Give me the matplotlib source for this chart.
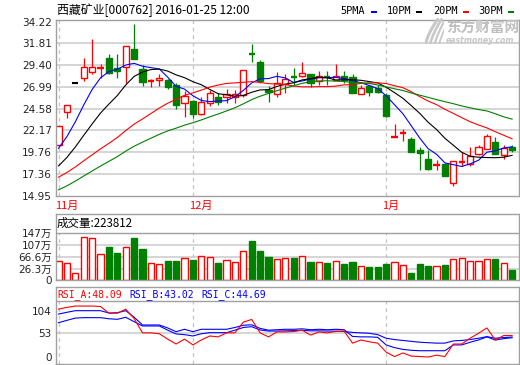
import numpy as np
import pandas as pd
import matplotlib
matplotlib.use("Agg")
import matplotlib.pyplot as plt
from matplotlib.patches import Rectangle
import matplotlib.transforms as mtransforms

plt.rcParams['font.family'] = ['DejaVu Sans', 'Noto Sans CJK SC']
CJK = ['Noto Sans CJK SC', 'DejaVu Sans']
MONO = ['DejaVu Sans Mono', 'Noto Sans CJK SC']

# ---------------------------------------------------------------- data
stock_name = '西藏矿业'
stock_code = '000762'
stamp = '2016-01-25 12:00'

open_ = [20.59, 24.26, 27.47, 28.00, 28.67, 29.08, 30.20, 29.11, 29.22, 31.14,
         29.03, 27.65, 27.73, 27.81, 27.25, 25.25, 25.48, 24.03, 25.25, 25.92,
         25.92, 25.90, 26.14, 30.65, 29.70, 26.60, 26.25, 27.36, 28.10, 28.15,
         28.37, 27.70, 28.08, 27.81, 28.15, 28.04, 26.25, 27.14, 26.92, 26.15,
         21.43, 21.88, 21.26, 20.03, 19.03, 18.33, 18.48, 16.37, 18.60, 18.48,
         19.59, 20.14, 20.92, 19.48, 20.37]
high = [22.70, 24.97, 27.47, 30.14, 32.25, 29.55, 30.59, 30.67, 31.55, 33.92,
        29.40, 27.92, 28.37, 27.90, 27.40, 26.50, 25.55, 25.90, 26.70, 26.37,
        26.80, 26.60, 28.90, 31.70, 30.00, 27.10, 28.60, 28.37, 29.10, 29.70,
        28.40, 28.80, 28.70, 29.50, 28.80, 28.40, 27.26, 27.20, 27.26, 26.37,
        22.92, 22.36, 21.40, 20.37, 20.03, 18.90, 18.60, 18.81, 19.80, 20.37,
        20.59, 21.81, 21.48, 20.59, 20.59]
low = [20.55, 23.50, 27.47, 27.62, 28.37, 28.00, 28.37, 28.00, 27.44, 30.03,
       27.07, 26.95, 27.15, 26.80, 24.58, 23.70, 23.60, 23.90, 24.90, 25.00,
       25.25, 25.25, 25.90, 29.80, 27.40, 25.30, 25.90, 26.37, 27.26, 28.10,
       27.00, 27.26, 27.26, 27.75, 27.40, 26.37, 26.20, 26.03, 26.37, 23.70,
       21.43, 21.03, 19.80, 17.80, 17.80, 17.80, 17.14, 16.03, 18.26, 18.26,
       19.50, 20.10, 19.59, 19.03, 19.81]
close = [22.70, 24.97, 27.47, 29.22, 29.18, 29.15, 28.48, 28.73, 31.55, 30.11,
         27.55, 27.70, 28.00, 27.00, 25.03, 26.03, 24.03, 25.37, 26.37, 25.36,
         26.25, 26.20, 28.84, 30.55, 27.60, 26.40, 27.47, 27.92, 28.00, 28.48,
         27.47, 28.15, 28.00, 28.15, 27.81, 26.37, 26.92, 26.48, 26.48, 23.81,
         21.43, 21.92, 19.81, 19.70, 17.92, 18.37, 17.14, 18.81, 18.70, 19.37,
         20.37, 21.59, 19.59, 20.25, 20.03]

# closes of the 29 sessions before the first bar (feed the moving averages)
pre_close = [11.6, 11.9, 12.2, 12.5, 12.7, 12.9, 13.1, 13.4, 13.7, 14.0,
             14.6, 15.2, 15.6, 15.9, 16.0, 16.1, 16.0, 16.1, 16.0, 16.0,
             15.6, 15.9, 16.3, 16.6, 17.1, 18.5, 19.3, 19.9, 20.6]

# volume in 万手
volume_wan = [53, 46, 12, 132.5, 129, 76.5, 100, 81, 100, 130,
              94, 46, 42, 53, 53, 62, 56, 69, 65, 47,
              55, 50, 86.5, 121, 86.5, 66.5, 60, 63, 63, 70,
              50, 50, 46, 53, 43, 50, 36, 33, 33, 43,
              50, 40, 13, 43, 36, 36, 40, 60, 63, 53,
              53, 60, 60, 46, 22.3812]
last_volume = 223812

rsi_a = [107, 111, 114, 114, 114, 113, 98, 98, 107, 86,
         54, 54, 52, 40, 29, 40, 27, 38, 47, 45,
         54, 54, 78, 84, 54, 45, 56, 56, 57, 60,
         49, 56, 54, 57, 58, 31, 38, 34, 31, 11,
         1, 9, 2, 1, 0, 4, 1, 29, 29, 42,
         53, 65, 38, 48, 48.09]
rsi_b = [96, 100, 103.6, 103.6, 103.6, 103.6, 98.4, 99, 103.6, 89,
         71.6, 71.6, 71.6, 65, 56.6, 62, 56.6, 62, 62, 62,
         62, 66, 71, 72, 64, 60, 61, 62, 62, 63,
         61, 62, 61, 62, 61, 46, 45, 45, 44, 27,
         21, 17, 15, 14, 14, 14, 14, 27, 27, 33,
         38, 45, 38, 41, 43.02]
rsi_c = [76.7, 82, 87, 88, 88, 88, 85.5, 84.3, 88.8, 79,
         69.4, 69.4, 69.4, 60, 51.5, 50, 47, 52, 54.4, 54.4,
         54.4, 60, 66, 67.8, 60.4, 58, 58, 58.5, 59, 59.5,
         58.5, 58.5, 58, 58, 57, 55, 54, 53, 50, 42,
         39, 37, 35, 33, 32, 31, 31, 36, 37, 39,
         42, 45.5, 42, 43.5, 44.69]

month_pos = [0, 16, 39]
month_labels = ['11月', '12月', '1月']
price_ticks = [34.22, 31.81, 29.40, 26.99, 24.58, 22.17, 19.76, 17.36, 14.95]
vol_ticks = [26.3, 66.6, 107, 147]
rsi_ticks = [0, 53, 104]
ma_periods = [5, 10, 20, 30]
ma_names = ['5PMA', '10PM', '20PM', '30PM']
ma_colors = ['#0000ff', '#000000', '#ff0000', '#008000']

# ---------------------------------------------------------------- layout
W, H = 520, 365
fig = plt.figure(figsize=(W / 100, H / 100), dpi=100)
fig.patch.set_facecolor('white')


def rect(x0, y0, x1, y1):
    return [x0 / W, 1 - y1 / H, (x1 - x0) / W, (y1 - y0) / H]


RED = '#ff0000'
GREEN = '#008000'
BLUE = '#0000ff'
FRAME = '#a0a0a0'
GRID = '#d2d2d2'
DASH = '#c4c4c4'
TXT = '#222222'

n = len(close)
xs = np.arange(n)
XLIM = (-0.3, 54.82)
BODY_W = 0.72
LW = 0.8


def style(ax):
    ax.set_xlim(*XLIM)
    ax.set_xticks([])
    for s in ax.spines.values():
        s.set_color(FRAME)
        s.set_linewidth(1.0)
    ax.tick_params(axis='y', length=0, pad=3, labelsize=7.5, labelcolor=TXT)
    ax.set_facecolor('white')


# ---------------------------------------------------------------- price panel
ax = fig.add_axes(rect(56, 20, 519, 196))
style(ax)
ax.set_ylim(14.92, 34.40)
ax.set_yticks(price_ticks)
ax.set_yticklabels([f'{t:.2f}' for t in price_ticks])
for t in price_ticks[1:-1]:
    ax.axhline(t, color=GRID, lw=1.3, zorder=0)
for p in month_pos:
    ax.axvline(p, color=DASH, lw=0.9, ls=(0, (3, 3)), zorder=0)

for i in range(n):
    o, h, l, c = open_[i], high[i], low[i], close[i]
    if h == l:
        ax.hlines(c, i - BODY_W / 2, i + BODY_W / 2, color='black', lw=1.5, zorder=2)
        continue
    up = c >= o
    col = RED if up else GREEN
    top, bot = max(o, c), min(o, c)
    if top - bot < 0.12:
        ax.vlines(i, l, h, color=col, lw=0.9, zorder=2)
        ax.hlines((top + bot) / 2, i - BODY_W / 2, i + BODY_W / 2, color=col, lw=1.7, zorder=2)
        continue
    if h > top:
        ax.vlines(i, top, h, color=col, lw=0.9, zorder=2)
    if l < bot:
        ax.vlines(i, l, bot, color=col, lw=0.9, zorder=2)
    ax.add_patch(Rectangle((i - BODY_W / 2, bot), BODY_W, top - bot,
                           facecolor='white' if up else col, edgecolor=col,
                           lw=1.0, zorder=2))

full_close = pd.Series(pre_close + close)
for p, col in zip(ma_periods, ma_colors):
    ma = full_close.rolling(p).mean().iloc[-n:].to_numpy()
    ax.plot(xs, ma, color=col, lw=LW, zorder=3)

# month labels between price and volume panels
trans = mtransforms.blended_transform_factory(ax.transData, fig.transFigure)
for p, lab in zip(month_pos, month_labels):
    ax.text(p - 0.45, 1 - 206 / H, lab, transform=trans, color=RED, family=CJK,
            fontsize=8, va='center', ha='left', clip_on=False)

# ---------------------------------------------------------------- volume panel
axv = fig.add_axes(rect(56, 214, 519, 280))
style(axv)
VOL_FLOOR = -10.7
axv.set_ylim(VOL_FLOOR, 210.8)
axv.set_yticks([VOL_FLOOR] + vol_ticks)
axv.set_yticklabels(['0'] + [f'{t:g}万' for t in vol_ticks])
for t in vol_ticks[:-1]:
    axv.axhline(t, color=GRID, lw=1.3, zorder=0)
axv.axhline(vol_ticks[-1], color=FRAME, lw=1.0, zorder=1)
for p in month_pos:
    axv.vlines(p, VOL_FLOOR, vol_ticks[-1], color=DASH, lw=0.9, ls=(0, (3, 3)), zorder=0)

ups = [c >= o for o, c in zip(open_, close)]
faces = ['white' if u else GREEN for u in ups]
edges = [RED if u else GREEN for u in ups]
heights = [v - VOL_FLOOR for v in volume_wan]
axv.bar(xs, heights, bottom=VOL_FLOOR, width=BODY_W, color=faces,
        edgecolor=edges, linewidth=1.0, zorder=2)

fig.text(57 / W, 1 - 223 / H, f'成交量:{last_volume}', family=CJK, fontsize=8.3,
         va='center', ha='left', color='black')

# ---------------------------------------------------------------- RSI panel
axr = fig.add_axes(rect(56, 287, 519, 364))
style(axr)
RSI_TOP = 124.6
axr.set_ylim(-15.7, 156.6)
axr.set_yticks(rsi_ticks)
axr.set_yticklabels([str(t) for t in rsi_ticks])
axr.axhline(53, color=GRID, lw=1.3, zorder=0)
axr.axhline(RSI_TOP, color=FRAME, lw=1.0, zorder=1)
for p in month_pos:
    axr.vlines(p, -15.7, RSI_TOP, color=DASH, lw=0.9, ls=(0, (3, 3)), zorder=0)
axr.plot(xs, rsi_c, color=BLUE, lw=LW, zorder=2)
axr.plot(xs, rsi_b, color=BLUE, lw=LW, zorder=2)
axr.plot(xs, rsi_a, color=RED, lw=LW, zorder=3)

for x0, name, vals, col in [(57, 'RSI_A', rsi_a, RED), (129, 'RSI_B', rsi_b, BLUE),
                            (201, 'RSI_C', rsi_c, BLUE)]:
    fig.text(x0 / W, 1 - 294.5 / H, f'{name}:{vals[-1]:.2f}', family=MONO,
             fontsize=7.0, color=col, va='center', ha='left')

# ---------------------------------------------------------------- header
fig.text(57 / W, 1 - 10 / H, f'{stock_name}[{stock_code}] {stamp}', family=CJK,
         fontsize=8.6, va='center', ha='left', color='black')

for tx, dx, name, col in zip([340, 387, 433, 478], [371, 416, 463, 508], ma_names, ma_colors):
    fig.text(tx / W, 1 - 10.5 / H, name, family=MONO, fontsize=7.4,
             va='center', ha='left', color='black')
    fig.add_artist(Rectangle((dx / W, 1 - 13 / H), 6 / W, 2.2 / H,
                             transform=fig.transFigure, color=col, lw=0))

# watermark
logo = fig.add_axes(rect(423, 18, 444, 44))
logo.set_axis_off()
logo.set_xlim(0, 1)
logo.set_ylim(0, 1)
t = np.linspace(0, 1, 30)
for k in range(4):
    lx = 0.15 + 0.18 * k + 0.55 * t ** 1.4
    ly = 0.05 + 0.9 * t - 0.12 * k * (1 - t)
    logo.plot(lx, ly, color='#c8c8c8', lw=2.2 - 0.3 * k, solid_capstyle='round')
fig.text(446 / W, 1 - 28 / H, '东方财富网', family=CJK, fontsize=10.5,
         fontweight='bold', color='#bfbfbf', va='center', ha='left')
fig.text(446 / W, 1 - 40.5 / H, 'eastmoney.com', fontsize=5.6, fontweight='bold',
         style='italic', color='#c6c6c6', va='center', ha='left')

fig.savefig('out.png', dpi=100, facecolor='white')
